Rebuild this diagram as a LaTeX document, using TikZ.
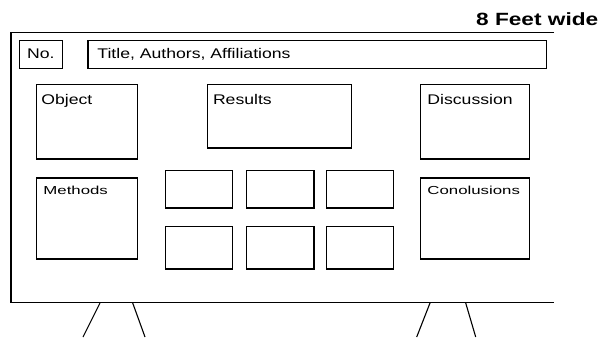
\documentclass[tikz,border=0pt]{standalone}
\usepackage{fontspec}
\setmainfont{Liberation Sans}
\newfontfamily\headfont[FakeStretch=1.28]{Liberation Sans}
\newfontfamily\boardfont[FakeStretch=1.26]{Liberation Sans}
\newfontfamily\penfont[FakeStretch=1.45]{Liberation Sans}

\begin{document}
\begin{tikzpicture}[x=1pt, y=-1pt, line width=1.4pt,
    panel/.style={draw, inner sep=0pt, anchor=north west},
    caption/.style={anchor=base west, inner sep=0pt, font=\boardfont\fontsize{14}{16}\selectfont},
    scrawl/.style={anchor=base west, inner sep=0pt, font=\penfont\fontsize{11.6}{13}\selectfont},
    leg/.style={line width=1.1pt}]
            \useasboundingbox (0, 0) rectangle (604, 337);
            % board
            \draw (554, 32.5) -- (11, 32.5) -- (11, 302.7) -- (554, 302.7);
            \node[anchor=base east, inner sep=0pt, font=\headfont\bfseries\fontsize{17.7}{20}\selectfont] (width) at (599, 26) {8 Feet wide};
            % header
            \node[panel, minimum width=42.7pt, minimum height=27.7pt] (no) at (19, 40) {};
            \node[caption] (notext) at (26.5, 58.5) {No.};
            \node[panel, minimum width=458.7pt, minimum height=27.7pt] (title) at (87.3, 40) {};
            \node[caption] (titletext) at (96.7, 58.5) {Title, Authors, Affiliations};
            % top row
            \node[panel, minimum width=100.7pt, minimum height=74.3pt] (object) at (36, 84) {};
            \node[caption] (objecttext) at (40.7, 104) {Object};
            \node[panel, minimum width=144pt, minimum height=63.3pt] (results) at (206.7, 84) {};
            \node[caption] (resultstext) at (212.3, 104) {Results};
            \node[panel, minimum width=109pt, minimum height=74.3pt] (discussion) at (420, 84) {};
            \node[caption] (discussiontext) at (426.7, 104) {Discussion};
            % lower row
            \node[panel, minimum width=100.7pt, minimum height=81pt] (methods) at (36, 177.3) {};
            \node[scrawl] (methodstext) at (42.7, 194.3) {Methods};
            \node[panel, minimum width=109pt, minimum height=81pt] (conclusions) at (420, 177.3) {};
            \node[scrawl] (conclusionstext) at (426.7, 194.3) {Conolusions};
            \node[panel, minimum width=67pt, minimum height=37.3pt] (fig1) at (164.7, 170) {};
            \node[panel, minimum width=67.3pt, minimum height=37.3pt] (fig2) at (246, 170) {};
            \node[panel, minimum width=67pt, minimum height=37.3pt] (fig3) at (325.7, 170) {};
            \node[panel, minimum width=67pt, minimum height=42.3pt] (fig4) at (164.7, 226) {};
            \node[panel, minimum width=67.3pt, minimum height=42.3pt] (fig5) at (246, 226) {};
            \node[panel, minimum width=67pt, minimum height=42.3pt] (fig6) at (325.7, 226) {};
            % legs
            \draw[leg] (100, 303) -- (83, 337);
            \draw[leg] (132.7, 303) -- (145, 337);
            \draw[leg] (430, 303) -- (416.7, 337);
            \draw[leg] (465.7, 303) -- (475.7, 337);
        \end{tikzpicture}
\end{document}
